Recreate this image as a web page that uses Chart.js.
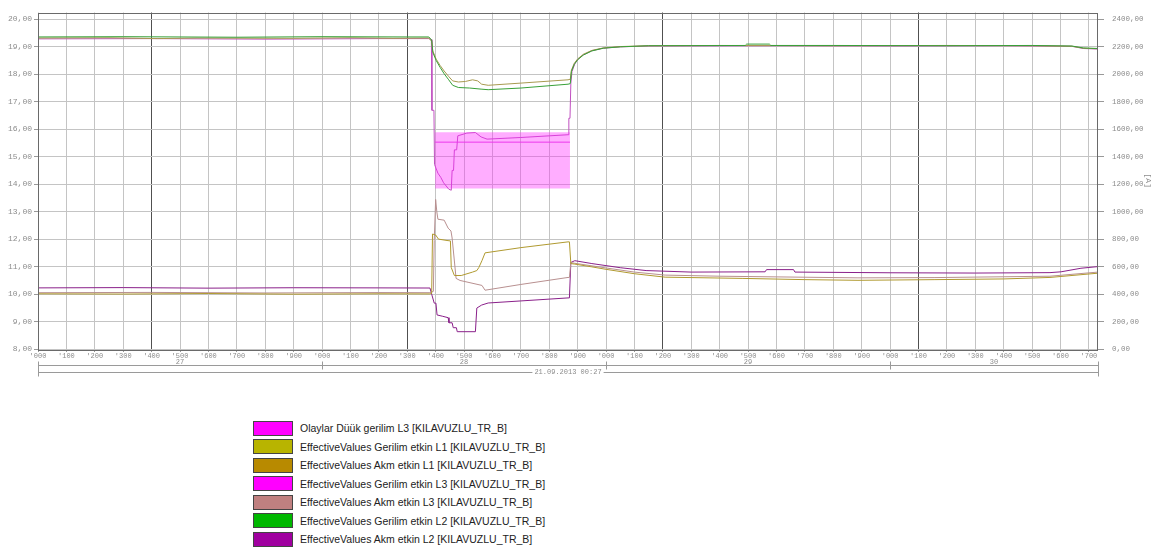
<!DOCTYPE html>
<html>
<head>
<meta charset="utf-8">
<script src="https://cdn.jsdelivr.net/npm/chart.js@4.4.1/dist/chart.umd.min.js"></script>
<style>
  body { margin: 0; background: #fff; width: 1153px; height: 550px; overflow: hidden; position: relative; font-family: "Liberation Sans", Arial, sans-serif; }
  #wrap { position: absolute; left: 0; top: 0; width: 1153px; height: 390px; }
  #legend { position: absolute; left: 253px; top: 419px; }
  .row { height: 18.5px; display: flex; align-items: center; }
  .box { width: 38px; height: 13px; border: 1px solid #444; margin-right: 7px; }
  .row span { font-size: 10.5px; color: #222; }
</style>
</head>
<body>
<div id="wrap"><canvas id="c" width="1153" height="390"></canvas></div>
<div id="legend"></div>
<script>
// time axis: 100 units per grid cell, 1000 per day
const dayLabels = ['27', '28', '29', '30'];
const dateLabel = '21.09.2013 00:27';

const seriesNames = [
  'Olaylar Düük gerilim L3 [KILAVUZLU_TR_B]',
  'EffectiveValues Gerilim etkin L1 [KILAVUZLU_TR_B]',
  'EffectiveValues Akm etkin L1 [KILAVUZLU_TR_B]',
  'EffectiveValues Gerilim etkin L3 [KILAVUZLU_TR_B]',
  'EffectiveValues Akm etkin L3 [KILAVUZLU_TR_B]',
  'EffectiveValues Gerilim etkin L2 [KILAVUZLU_TR_B]',
  'EffectiveValues Akm etkin L2 [KILAVUZLU_TR_B]'
];
const seriesColors = ['#ff00ff', '#b8b400', '#b88a00', '#ff00ff', '#c08080', '#00b800', '#a000a0'];

// event (Olaylar) band, kV
const olaylarTop = [[1398, 15.89], [1873, 15.89]];
const olaylarBottom = [[1398, 13.84], [1873, 13.84]];
const olaylarLimit = [[1398, 15.53], [1873, 15.53]];

// voltages, kV (left axis)
const gerilimL1 = [[0,19.32],[250,19.33],[420,19.30],[560,19.32],[900,19.31],[1100,19.33],[1250,19.31],[1376,19.32],[1386,19.2],[1390,18.85],[1402,18.55],[1416,18.32],[1430,18.12],[1446,17.92],[1460,17.76],[1480,17.72],[1505,17.74],[1530,17.8],[1548,17.76],[1562,17.64],[1585,17.6],[1700,17.68],[1866,17.8],[1874,17.82],[1878,18.15],[1888,18.4],[1900,18.56],[1920,18.73],[1950,18.87],[1990,18.96],[2050,19.01],[2150,19.04],[2400,19.05],[2800,19.04],[3200,19.05],[3500,19.04],[3640,19.02],[3680,18.95],[3732,18.93]];
const gerilimL2 = [[0,19.36],[300,19.37],[700,19.35],[1000,19.37],[1300,19.36],[1376,19.36],[1386,19.25],[1390,18.8],[1402,18.5],[1416,18.25],[1430,18.02],[1446,17.8],[1460,17.6],[1480,17.52],[1520,17.5],[1560,17.46],[1585,17.44],[1700,17.5],[1866,17.64],[1874,17.66],[1878,18.1],[1888,18.36],[1900,18.53],[1920,18.7],[1950,18.85],[1990,18.95],[2050,19.0],[2150,19.04],[2490,19.05],[2495,19.1],[2575,19.1],[2580,19.05],[2800,19.05],[3200,19.04],[3500,19.05],[3640,19.03],[3680,18.96],[3732,18.94]];
const gerilimL3 = [[0,19.29],[400,19.3],[800,19.28],[1200,19.3],[1376,19.3],[1385,19.26],[1387,16.69],[1394,16.69],[1396,14.72],[1408,14.4],[1418,14.25],[1428,14.05],[1446,13.82],[1455,13.78],[1458,14.5],[1463,14.5],[1466,15.25],[1474,15.25],[1478,15.76],[1510,15.86],[1540,15.88],[1560,15.72],[1581,15.64],[1700,15.7],[1866,15.8],[1869,16.4],[1873,16.4],[1876,17.66],[1880,18.1],[1890,18.38],[1900,18.54],[1920,18.71],[1950,18.86],[1990,18.95],[2050,19.0],[2150,19.03],[2600,19.04],[3000,19.03],[3400,19.04],[3640,19.02],[3680,18.94],[3732,18.92]];

// currents, A (right axis)
const akmL1 = [[0,402],[300,400],[600,404],[900,399],[1200,402],[1380,401],[1386,405],[1389,837],[1400,830],[1410,800],[1440,790],[1452,787],[1455,593],[1466,535],[1490,535],[1530,560],[1545,571],[1552,593],[1563,643],[1574,700],[1700,738],[1866,780],[1871,780],[1876,622],[1890,618],[1950,598],[2000,580],[2100,548],[2208,523],[2479,514],[2700,505],[2887,500],[3158,505],[3400,510],[3563,521],[3732,552]];
const akmL2 = [[0,445],[300,447],[600,443],[900,446],[1200,445],[1380,444],[1387,392],[1395,334],[1401,334],[1405,248],[1425,238],[1444,228],[1447,191],[1458,191],[1462,155],[1473,155],[1476,126],[1540,126],[1545,298],[1562,320],[1585,335],[1700,350],[1866,372],[1871,372],[1876,630],[1890,643],[1950,622],[2050,592],[2141,571],[2300,560],[2560,562],[2565,578],[2660,578],[2665,560],[3000,555],[3300,553],[3563,556],[3602,562],[3672,588],[3732,600]];
const akmL3 = [[0,410],[400,412],[800,408],[1200,411],[1380,410],[1392,420],[1395,790],[1400,1089],[1404,1002],[1408,945],[1430,938],[1444,880],[1454,859],[1458,808],[1472,514],[1486,499],[1563,463],[1574,428],[1700,470],[1866,521],[1871,521],[1876,629],[1890,624],[2000,590],[2100,560],[2208,538],[2400,530],[2887,518],[3158,520],[3563,530],[3732,560]];

const xMax = 3732;
const pts = arr => arr.map(([x, y]) => ({ x, y }));
const line = (label, data, color, axis) => ({
  label, data: pts(data), borderColor: color, backgroundColor: color,
  borderWidth: 1, pointRadius: 0, tension: 0, fill: false, yAxisID: axis
});

const axisFont = { family: 'Liberation Mono', size: 8 };
const grey = '#8c8c8c';

// frame + day/date rows under the time axis
const decor = {
  id: 'decor',
  afterDraw(chart) {
    const { ctx, chartArea: a, scales: { x } } = chart;
    ctx.save();
    ctx.strokeStyle = '#6a6a6a';
    ctx.lineWidth = 1;
    ctx.strokeRect(Math.round(a.left) + 0.5, Math.round(a.top) + 0.5, Math.round(a.width) - 1, Math.round(a.height));

    const y1 = Math.round(a.bottom) + 16.5, y2 = Math.round(a.bottom) + 23.5;
    const l = x.getPixelForValue(0), r = x.getPixelForValue(xMax);
    ctx.strokeStyle = '#9a9a9a';
    ctx.beginPath();
    ctx.moveTo(l, y1); ctx.lineTo(r, y1);
    ctx.moveTo(l, y2); ctx.lineTo(r, y2);
    ctx.moveTo(Math.round(l) + 0.5, y1 - 4); ctx.lineTo(Math.round(l) + 0.5, y2 + 4);
    ctx.moveTo(Math.round(r) + 0.5, y1 - 4); ctx.lineTo(Math.round(r) + 0.5, y2 + 4);
    for (let d = 1; d < dayLabels.length; d++) {
      const px = Math.round(x.getPixelForValue(d * 1000)) + 0.5;
      ctx.moveTo(px, y1 - 4); ctx.lineTo(px, y1 + 4);
    }
    ctx.stroke();

    ctx.fillStyle = grey;
    ctx.font = '7px "Liberation Mono"';
    ctx.textAlign = 'center';
    ctx.textBaseline = 'bottom';
    dayLabels.forEach((lab, d) => {
      const c = (d * 1000 + Math.min((d + 1) * 1000, xMax)) / 2;
      ctx.fillText(lab, x.getPixelForValue(c), y1);
    });
    ctx.textBaseline = 'middle';
    const cx = (l + r) / 2;
    const w = ctx.measureText(dateLabel).width + 4;
    ctx.fillStyle = '#fff';
    ctx.fillRect(cx - w / 2, y2 - 4, w, 8);
    ctx.fillStyle = grey;
    ctx.fillText(dateLabel, cx, y2);
    ctx.restore();
  }
};

new Chart(document.getElementById('c'), {
  type: 'line',
  data: {
    datasets: [
      { label: seriesNames[0], data: pts(olaylarTop), borderColor: 'rgba(0,0,0,0)', borderWidth: 0, pointRadius: 0, fill: '+1', backgroundColor: 'rgba(255,40,255,0.38)', yAxisID: 'y' },
      { label: seriesNames[0], data: pts(olaylarBottom), borderColor: 'rgba(0,0,0,0)', borderWidth: 0, pointRadius: 0, fill: false, yAxisID: 'y' },
      line(seriesNames[0], olaylarLimit, '#e040e0', 'y'),
      line(seriesNames[5], gerilimL2, '#38a038', 'y'),
      line(seriesNames[1], gerilimL1, '#a89a50', 'y'),
      line(seriesNames[3], gerilimL3, '#c050c0', 'y'),
      line(seriesNames[2], akmL1, '#b09a30', 'y1'),
      line(seriesNames[4], akmL3, '#b89090', 'y1'),
      line(seriesNames[6], akmL2, '#8a208a', 'y1')
    ]
  },
  options: {
    responsive: false,
    animation: false,
    devicePixelRatio: 1,
    layout: { padding: { top: 8, left: 0, right: 0, bottom: 0 } },
    plugins: { legend: { display: false }, tooltip: { enabled: false } },
    scales: {
      x: {
        type: 'linear', min: 0, max: xMax,
        ticks: {
          stepSize: 100, includeBounds: false, autoSkip: false, maxRotation: 0, padding: 0,
          font: { family: 'Liberation Mono', size: 7 }, color: grey,
          callback: v => "'" + String(v % 1000).padStart(3, '0')
        },
        grid: {
          color: c => (c.tick && c.tick.value % 900 === 400) ? '#505050' : '#c4c4c4',
          tickLength: 3, tickColor: '#999'
        },
        border: { display: false },
        afterFit: s => { s.height = 41; }
      },
      y: {
        position: 'left', min: 8, max: 20.25,
        ticks: {
          stepSize: 1, includeBounds: false, padding: 2, font: axisFont, color: grey,
          callback: v => v.toFixed(2).replace('.', ',')
        },
        grid: { color: '#c4c4c4', tickLength: 4, tickColor: '#999' },
        border: { display: false },
        afterFit: s => { s.width = 38; }
      },
      y1: {
        position: 'right', min: 0, max: 2450,
        ticks: {
          stepSize: 200, includeBounds: false, padding: 8, font: { family: 'Liberation Mono', size: 7.5 }, color: grey,
          callback: v => v.toFixed(2).replace('.', ',')
        },
        grid: { drawOnChartArea: false, tickLength: 6, tickColor: '#999' },
        border: { display: false },
        title: { display: true, text: '[A]', font: { family: 'Liberation Mono', size: 8 }, color: grey, padding: 0 },
        afterFit: s => { s.width = 55; }
      }
    }
  },
  plugins: [decor]
});

// legend rows
const legend = document.getElementById('legend');
seriesNames.forEach((name, i) => {
  const row = document.createElement('div');
  row.className = 'row';
  row.innerHTML = '<div class="box" style="background:' + seriesColors[i] + '"></div><span></span>';
  row.querySelector('span').textContent = name;
  legend.appendChild(row);
});
</script>
</body>
</html>
